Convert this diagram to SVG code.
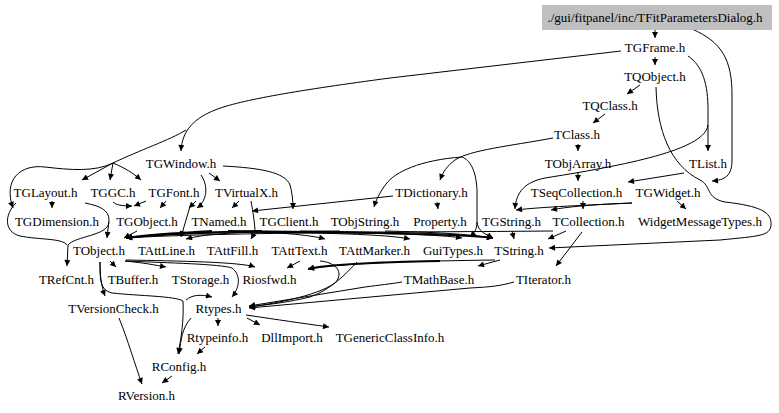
<svg xmlns="http://www.w3.org/2000/svg" width="779" height="413" viewBox="0 0 779 413">
<defs>
<marker id="a" viewBox="0 0 10 10" refX="10" refY="5" markerWidth="8" markerHeight="6" markerUnits="userSpaceOnUse" orient="auto"><path d="M0,0L10,5L0,10z" fill="#000"/></marker>
</defs>
<style>
text{font-family:"Liberation Serif","Times New Roman",serif;font-size:13px;text-anchor:middle;fill:#000}
#edges path{fill:none;stroke:#000;stroke-width:1;marker-end:url(#a)}
#edges path.b{marker-end:none}
#edges path.t{stroke-width:1.8}
</style>
<rect width="779" height="413" fill="#fff"/>
<g id="edges">
<path d="M655,30 L655,38"/>
<path d="M692,29 C722,42 732,60 732,95 L732,160 C732,176 725,180 712,181"/>
<path d="M655,57 L655,65"/>
<path d="M688,56 C703,66 708,85 708,110 L708,151"/>
<path d="M708,125 C705,148 640,163 545,178 C525,182 516,192 515,209"/>
<path d="M621,51 L390,78 C300,90 240,100 215,110 C195,118 182,130 181,151"/>
<path d="M186,130 C170,140 140,150 113,163 L82,180"/>
<path d="M113,163 L110,180"/>
<path d="M113,163 C125,168 133,173 141,180"/>
<path d="M113,163 C95,172 70,170 45,167 C20,164 3,180 13,208"/>
<path d="M640,85 L627,94"/>
<path d="M656,87 C657,130 670,165 700,180 C712,186 705,198 725,202 C760,206 772,212 771,225 C770,236 760,236 720,240 L549,248"/>
<path d="M605,114 L593,123"/>
<path d="M578,144 L578,151"/>
<path d="M553,138 C510,146 470,150 455,160 C447,166 443,172 440,180"/>
<path d="M462,157 C420,160 395,172 386,184 C380,192 376,200 374,207"/>
<path class="b" d="M462,157 C470,160 476,170 477,190 L477,222"/>
<path d="M477,222 C477,230 474,233 470,237"/>
<path d="M477,222 C478,232 486,234 493,238"/>
<path d="M578,173 L578,181"/>
<path d="M684,173 L628,182"/>
<path d="M209,173 L220,181"/>
<path d="M223,166 C260,168 285,172 290,185 C292,192 293,200 293,209"/>
<path d="M201,175 C208,185 208,200 197,208"/>
<path d="M196,201 L189,208"/>
<path d="M191,203 C188,214 184,226 181,237"/>
<path d="M239,201 L232,208"/>
<path class="b" d="M251,201 C253,212 255,225 255,232"/>
<path d="M255,232 C230,233 205,234 186,239"/>
<path d="M255,232 L251,239"/>
<path d="M255,232 C285,233 310,235 325,239"/>
<path d="M255,232 C320,233 385,234 410,239"/>
<path d="M255,232 C340,233 430,233 462,238"/>
<path d="M437,202 L438,209"/>
<path d="M393,196 L252,211"/>
<path d="M113,202 C116,205 122,206 132,206"/>
<path d="M146,201 L134,206"/>
<path d="M166,201 L160,208"/>
<path d="M52,201 L52,208"/>
<path d="M85,203 C100,206 109,210 109,220 L107,238"/>
<path d="M109,222 C108,236 75,236 68,245 L67,266"/>
<path class="b" d="M16,203 C4,215 4,232 20,236 C40,240 62,238 67,245"/>
<path d="M137,231 L124,238"/>
<path class="t" d="M212,231 C180,233 150,234 126,238"/>
<path class="t" d="M262,231 C210,232 160,234 126,238"/>
<path d="M340,231 C260,232 170,233 126,238"/>
<path d="M553,231 C450,232 220,232 126,238"/>
<path class="t" d="M228,231 C300,232 450,233 493,238"/>
<path d="M385,231 C430,232 470,234 493,238"/>
<path d="M300,231 C380,232 460,233 493,238"/>
<path d="M512,231 L514,239"/>
<path d="M566,231 L548,239"/>
<path d="M582,232 L556,266"/>
<path d="M583,201 L583,209"/>
<path d="M632,203 C605,204 570,206 551,210"/>
<path d="M632,203 C590,205 540,207 516,210"/>
<path d="M677,201 L686,209"/>
<path d="M100,262 C100,275 101,285 105,296"/>
<path d="M100,262 C100,280 100,290 112,293 C140,296 175,296 183,301 C184,320 181,340 178,354"/>
<path d="M110,261 L116,267"/>
<path d="M125,261 C145,263 155,265 166,267"/>
<path d="M125,261 C170,263 220,264 232,268 C241,275 240,287 232,297"/>
<path d="M186,300 C192,295 200,294 212,297"/>
<path d="M126,260 C180,261 240,262 255,267"/>
<path d="M300,261 L287,268"/>
<path class="t" d="M440,261 C380,262 330,264 308,269"/>
<path d="M495,260 C420,261 340,263 308,269"/>
<path d="M500,260 L478,266"/>
<path d="M320,261 C335,262 345,272 335,283 C315,297 270,304 249,307"/>
<path d="M357,262 C345,275 330,290 310,297 C290,302 265,305 249,307"/>
<path d="M402,282 C390,284 380,285 365,287 L249,306"/>
<path d="M514,282 C500,286 490,287 470,288 L249,308"/>
<path d="M218,318 L218,326"/>
<path d="M247,318 L260,325"/>
<path d="M246,315 C280,320 300,323 329,327"/>
<path d="M191,318 C182,328 181,340 179,354"/>
<path d="M205,347 L197,354"/>
<path d="M172,376 L162,383"/>
<path d="M119,318 C128,340 135,365 142,384"/>
</g>
<g id="TFitParametersDialog"><rect x="542" y="5" width="230" height="25" fill="#bfbfbf"/><text x="655" y="22">./gui/fitpanel/inc/TFitParametersDialog.h</text></g>
<g id="TGFrame"><text x="655" y="52">TGFrame.h</text></g>
<g id="TQObject"><text x="655" y="81">TQObject.h</text></g>
<g id="TQClass"><text x="610" y="110">TQClass.h</text></g>
<g id="TClass"><text x="577" y="139">TClass.h</text></g>
<g id="TGWindow"><text x="181" y="168">TGWindow.h</text></g>
<g id="TObjArray"><text x="578" y="168">TObjArray.h</text></g>
<g id="TList"><text x="708" y="168">TList.h</text></g>
<g id="TGLayout"><text x="45.5" y="197">TGLayout.h</text></g>
<g id="TGGC"><text x="113" y="197">TGGC.h</text></g>
<g id="TGFont"><text x="174" y="197">TGFont.h</text></g>
<g id="TVirtualX"><text x="246.5" y="197">TVirtualX.h</text></g>
<g id="TDictionary"><text x="431.5" y="197">TDictionary.h</text></g>
<g id="TSeqCollection"><text x="576.5" y="197">TSeqCollection.h</text></g>
<g id="TGWidget"><text x="668" y="197">TGWidget.h</text></g>
<g id="TGDimension"><text x="57" y="226">TGDimension.h</text></g>
<g id="TGObject"><text x="147" y="226">TGObject.h</text></g>
<g id="TNamed"><text x="219" y="226">TNamed.h</text></g>
<g id="TGClient"><text x="289" y="226">TGClient.h</text></g>
<g id="TObjString"><text x="365" y="226">TObjString.h</text></g>
<g id="Property"><text x="440" y="226">Property.h</text></g>
<g id="TGString"><text x="511.5" y="226">TGString.h</text></g>
<g id="TCollection"><text x="588.5" y="226">TCollection.h</text></g>
<g id="WidgetMessageTypes"><text x="700" y="226">WidgetMessageTypes.h</text></g>
<g id="TObject"><text x="99" y="255">TObject.h</text></g>
<g id="TAttLine"><text x="166.5" y="255">TAttLine.h</text></g>
<g id="TAttFill"><text x="232.5" y="255">TAttFill.h</text></g>
<g id="TAttText"><text x="299.5" y="255">TAttText.h</text></g>
<g id="TAttMarker"><text x="374.5" y="255">TAttMarker.h</text></g>
<g id="GuiTypes"><text x="453" y="255">GuiTypes.h</text></g>
<g id="TString"><text x="519" y="255">TString.h</text></g>
<g id="TRefCnt"><text x="66.5" y="284">TRefCnt.h</text></g>
<g id="TBuffer"><text x="133" y="284">TBuffer.h</text></g>
<g id="TStorage"><text x="200.5" y="284">TStorage.h</text></g>
<g id="Riosfwd"><text x="269.5" y="284">Riosfwd.h</text></g>
<g id="TMathBase"><text x="439" y="284">TMathBase.h</text></g>
<g id="TIterator"><text x="543.5" y="284">TIterator.h</text></g>
<g id="TVersionCheck"><text x="113.5" y="313">TVersionCheck.h</text></g>
<g id="Rtypes"><text x="218.5" y="313">Rtypes.h</text></g>
<g id="Rtypeinfo"><text x="217.5" y="342">Rtypeinfo.h</text></g>
<g id="DllImport"><text x="292" y="342">DllImport.h</text></g>
<g id="TGenericClassInfo"><text x="390" y="342">TGenericClassInfo.h</text></g>
<g id="RConfig"><text x="179" y="371">RConfig.h</text></g>
<g id="RVersion"><text x="146.5" y="400">RVersion.h</text></g>
</svg>
